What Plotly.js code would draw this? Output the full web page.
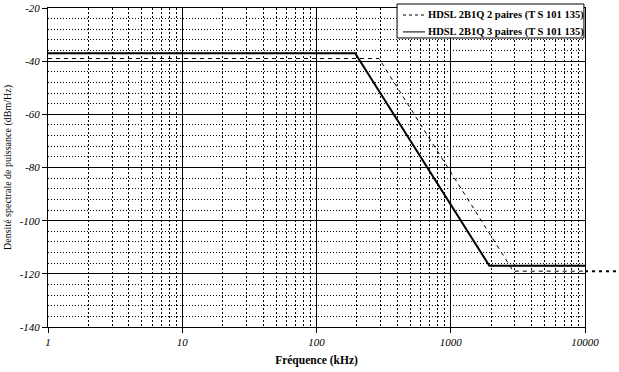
<!DOCTYPE html>
<html>
<head>
<meta charset="utf-8">
<script src="https://cdn.plot.ly/plotly-3.0.1.min.js"></script>
<style>html,body{margin:0;padding:0;background:#fff;}#chart{width:619px;height:372px;}</style>
</head>
<body>
<div id="chart"></div>
<script>
// Data
const freq2 = [1, 292, 2920, 10000];      // kHz, HDSL 2B1Q 2 paires
const psd2  = [-39, -39, -119, -119];     // dBm/Hz
const freq3 = [1, 194, 1940, 10000];      // kHz, HDSL 2B1Q 3 paires
const psd3  = [-37, -37, -117, -117];     // dBm/Hz
const seriesNames = ["HDSL 2B1Q 2 paires (T S 101 135)", "HDSL 2B1Q 3 paires (T S 101 135)"];
const yTickVals = [-20, -40, -60, -80, -100, -120, -140];
const yTickText = ["-20", "-40", "-60", "-80", "-100", "-120", "-140"];
const xTickVals = [1, 10, 100, 1000, 10000];
const xTickText = ["1", "10", "100", "1000", "10000"];

const serif = "Liberation Serif, Times New Roman, serif";
const dash2 = "4px,4px";

const traces = [
  {x: freq2, y: psd2, name: seriesNames[0], mode: "lines", type: "scatter",
   line: {color: "#000", width: 1, dash: dash2}},
  {x: freq3, y: psd3, name: seriesNames[1], mode: "lines", type: "scatter",
   line: {color: "#000", width: 2}}
];

// legend drawn as box + samples + text (paper coordinates)
const legX0 = 0.65, legX1 = 0.998, legY0 = 0.906, legY1 = 1.0125;
const rowY = [0.978, 0.925];
const sampleX = [0.661, 0.702];
const textX = 0.703;

const layout = {
  width: 619, height: 372,
  margin: {l: 48, r: 34, t: 8, b: 45},
  paper_bgcolor: "#fff", plot_bgcolor: "#fff",
  font: {family: serif, color: "#000", size: 11},
  showlegend: false,
  xaxis: {
    type: "log", range: [0, 4],
    tickvals: xTickVals, ticktext: xTickText,
    tickfont: {family: serif, size: 11, style: "italic"},
    ticks: "outside", ticklen: 5, tickcolor: "#000",
    showgrid: true, gridcolor: "#000", gridwidth: 1,
    minor: {dtick: "D1", showgrid: true, gridcolor: "#000", gridwidth: 1, griddash: "2px,2px", ticks: ""},
    showline: true, linecolor: "#000", linewidth: 1, mirror: true,
    zeroline: false,
    title: {text: "Fréquence (kHz)", font: {family: serif, size: 11.5, weight: "bold"}, standoff: 8}
  },
  yaxis: {
    range: [-140, -20],
    tickvals: yTickVals, ticktext: yTickText,
    tickfont: {family: serif, size: 11, style: "italic"},
    ticks: "outside", ticklen: 5, tickcolor: "#000",
    showgrid: true, gridcolor: "#000", gridwidth: 1,
    minor: {dtick: 4, tick0: -20, showgrid: true, gridcolor: "#000", gridwidth: 1, griddash: "1px,2px", ticks: ""},
    showline: true, linecolor: "#000", linewidth: 1, mirror: true,
    zeroline: false,
    title: {text: "Densité spectrale de puissance (dBm/Hz)", font: {family: serif, size: 10}, standoff: 6}
  },
  shapes: [
    {type: "line", xref: "paper", yref: "y", x0: 1, x1: 1.08,
     y0: psd2[psd2.length - 1], y1: psd2[psd2.length - 1],
     line: {color: "#000", width: 2, dash: "3px,4px"}, layer: "above"},
    {type: "rect", xref: "paper", yref: "paper", x0: legX0, x1: legX1, y0: legY0, y1: legY1,
     fillcolor: "#fff", line: {color: "#000", width: 1}, layer: "above"},
    {type: "line", xref: "paper", yref: "paper", x0: sampleX[0], x1: sampleX[1], y0: rowY[0], y1: rowY[0],
     line: {color: "#000", width: 1, dash: "3px,3px"}, layer: "above"},
    {type: "line", xref: "paper", yref: "paper", x0: sampleX[0], x1: sampleX[1], y0: rowY[1], y1: rowY[1],
     line: {color: "#000", width: 1}, layer: "above"}
  ],
  annotations: seriesNames.map((n, i) => ({
    text: n, xref: "paper", yref: "paper", x: textX, y: rowY[i],
    xanchor: "left", yanchor: "middle", showarrow: false,
    font: {family: serif, size: 10.5, weight: "bold", color: "#000"}
  }))
};

Plotly.newPlot("chart", traces, layout, {displayModeBar: false, staticPlot: true});
</script>
</body>
</html>
